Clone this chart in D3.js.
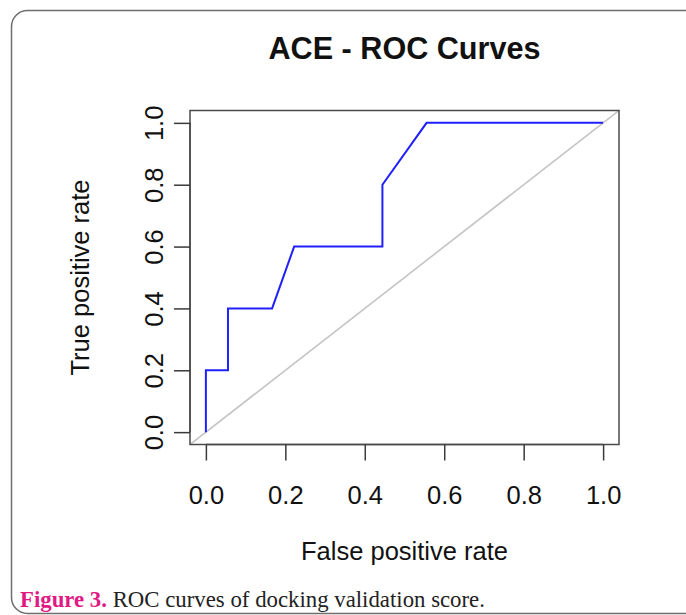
<!DOCTYPE html>
<html>
<head>
  <meta charset="utf-8">
  <script src="https://d3js.org/d3.v7.min.js"></script>
  <style>
    html, body {
        margin: 0px;
        padding: 0px;
        background: #fff;
    }
    text {
        font-family: "Liberation Sans", Arial, sans-serif;
    }
    .caption text {
        font-family: "Liberation Serif", "Times New Roman", serif;
    }
  </style>
  <title>ACE - ROC Curves</title>
</head>
<body>
<div id="chart"></div>
<script>
    // ROC curve points (steps of 1/18 on x, 1/5 on y)
    var fpr = [0, 0, 0.0556, 0.0556, 0.1667, 0.2222, 0.4444, 0.4444, 0.5556, 1.0];
    var tpr = [0, 0.2, 0.2, 0.4, 0.4, 0.6, 0.6, 0.8, 1.0, 1.0];
    var xTicks = [0, 0.2, 0.4, 0.6, 0.8, 1.0];
    var yTicks = [0, 0.2, 0.4, 0.6, 0.8, 1.0];

    var W = 686, H = 615;
    var svg = d3.select("#chart").append("svg")
        .attr("width", W).attr("height", H);

    // card outline
    svg.append("rect")
        .attr("x", 11.5).attr("y", 10.5)
        .attr("width", 690).attr("height", 603)
        .attr("rx", 16).attr("ry", 16)
        .style("fill", "none")
        .style("stroke", "#6e6e6e")
        .style("stroke-width", 1.5);

    // R style plot region: data range padded by 4%
    var x = d3.scaleLinear().domain([-0.04, 1.04]).range([190, 619]);
    var y = d3.scaleLinear().domain([-0.04, 1.04]).range([444.5, 110.5]);

    var clip = svg.append("clipPath").attr("id", "plotclip")
        .append("rect")
        .attr("x", x(-0.04)).attr("y", y(1.04))
        .attr("width", x(1.04) - x(-0.04))
        .attr("height", y(-0.04) - y(1.04));

    // chance diagonal (abline 0,1)
    svg.append("line")
        .attr("clip-path", "url(#plotclip)")
        .attr("x1", x(-0.04)).attr("y1", y(-0.04))
        .attr("x2", x(1.04)).attr("y2", y(1.04))
        .style("stroke", "#c4c4c4")
        .style("stroke-width", 1.6);

    var pts = fpr.map(function(d, i) { return [d, tpr[i]]; });
    var line = d3.line()
        .x(function(d) { return x(d[0]); })
        .y(function(d) { return y(d[1]); });

    svg.append("path")
        .datum(pts)
        .attr("d", line)
        .style("fill", "none")
        .style("stroke", "#2020ff")
        .style("stroke-width", 2);

    // box
    svg.append("rect")
        .attr("x", x(-0.04)).attr("y", y(1.04))
        .attr("width", x(1.04) - x(-0.04))
        .attr("height", y(-0.04) - y(1.04))
        .style("fill", "none")
        .style("stroke", "#4a4a4a")
        .style("stroke-width", 1.5);

    // x axis
    var xAxis = d3.axisBottom(x).tickValues(xTicks).tickSize(16)
        .tickFormat(d3.format(".1f"));
    var gx = svg.append("g")
        .attr("transform", "translate(0," + y(-0.04) + ")")
        .call(xAxis);
    gx.select(".domain").attr("d", "M" + x(0) + ",0H" + x(1))
        .style("stroke", "#4a4a4a").style("stroke-width", 1.5);
    gx.selectAll(".tick line").style("stroke", "#3a3a3a").style("stroke-width", 1.5);
    gx.selectAll(".tick text")
        .attr("y", 59).attr("dy", 0)
        .style("font-size", "25.5px")
        .style("font-family", "'Liberation Sans', Arial, sans-serif")
        .style("fill", "#111");

    // y axis
    var yAxis = d3.axisLeft(y).tickValues(yTicks).tickSize(16)
        .tickFormat(d3.format(".1f"));
    var gy = svg.append("g")
        .attr("transform", "translate(" + x(-0.04) + ",0)")
        .call(yAxis);
    gy.select(".domain").attr("d", "M0," + y(0) + "V" + y(1))
        .style("stroke", "#4a4a4a").style("stroke-width", 1.5);
    gy.selectAll(".tick line").style("stroke", "#3a3a3a").style("stroke-width", 1.5);
    gy.selectAll(".tick text")
        .attr("x", 0).attr("dy", 0)
        .attr("transform", "translate(-27,0) rotate(-90)")
        .attr("text-anchor", "middle")
        .style("font-size", "25.5px")
        .style("font-family", "'Liberation Sans', Arial, sans-serif")
        .style("fill", "#111");

    // titles
    svg.append("text")
        .attr("x", (x(0) + x(1)) / 2).attr("y", 59)
        .attr("text-anchor", "middle")
        .style("font-size", "30.6px")
        .style("font-weight", "bold")
        .style("fill", "#111")
        .text("ACE - ROC Curves");

    svg.append("text")
        .attr("x", (x(0) + x(1)) / 2).attr("y", 560)
        .attr("text-anchor", "middle")
        .style("font-size", "25.5px")
        .style("fill", "#111")
        .text("False positive rate");

    svg.append("text")
        .attr("transform", "translate(89," + (y(0) + y(1)) / 2 + ") rotate(-90)")
        .attr("text-anchor", "middle")
        .style("font-size", "25.5px")
        .style("fill", "#111")
        .text("True positive rate");

    // caption
    var cap = svg.append("g").attr("class", "caption")
        .append("text")
        .attr("x", 20).attr("y", 607)
        .style("font-size", "22.8px");
    cap.append("tspan")
        .style("font-weight", "bold")
        .style("fill", "#df1a84")
        .text("Figure 3.");
    cap.append("tspan")
        .style("fill", "#222")
        .text(" ROC curves of docking validation score.");
</script>
</body>
</html>
